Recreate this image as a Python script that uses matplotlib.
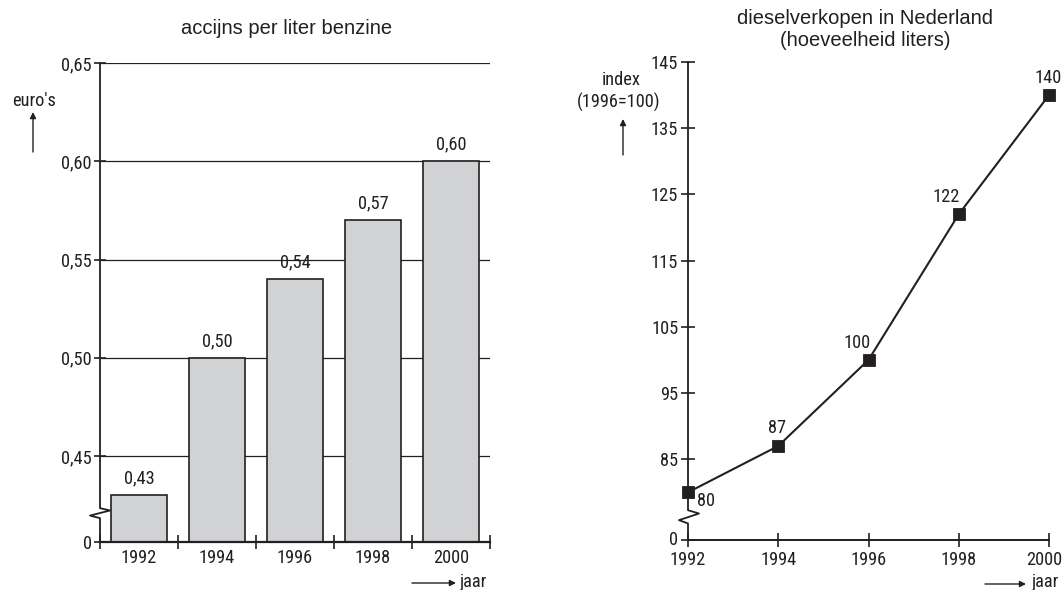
import matplotlib
matplotlib.use("Agg")
import matplotlib.pyplot as plt
from matplotlib import font_manager as fm
from matplotlib.transforms import blended_transform_factory, ScaledTranslation
from matplotlib.lines import Line2D

# ---------------- data ----------------
years_left = ["1992", "1994", "1996", "1998", "2000"]
accijns = [0.43, 0.50, 0.54, 0.57, 0.60]
accijns_labels = ["0,43", "0,50", "0,54", "0,57", "0,60"]
left_yticks = [0.45, 0.50, 0.55, 0.60, 0.65]
left_yticklabels = ["0,45", "0,50", "0,55", "0,60", "0,65"]

years_right = [1992, 1994, 1996, 1998, 2000]
diesel_index = [80, 87, 100, 122, 140]
right_yticks = [85, 95, 105, 115, 125, 135, 145]

# ---------------- fonts ----------------
cands = []
for f in fm.fontManager.ttflist:
    st = str(f.stretch).lower()
    nm = f.name.lower()
    fn = f.fname.lower()
    if ("narrow" in nm or "condensed" in nm or "narrow" in fn or "condensed" in fn
            or st in ("condensed", "semi-condensed", "extra-condensed")):
        if f.weight in (400, "normal", "regular") and f.style == "normal":
            cands.append(f)
pref = ["liberation sans narrow", "roboto condensed", "open sans condensed",
        "dejavu sans condensed", "noto sans condensed"]
chosen = None
for p in pref:
    for f in cands:
        if p in (f.name.lower() + " " + f.fname.lower().replace("-", " ")):
            chosen = f
            break
    if chosen:
        break
if chosen is None and cands:
    chosen = cands[0]
if chosen is not None:
    NFP = fm.FontProperties(fname=chosen.fname)
else:
    NFP = fm.FontProperties(family="DejaVu Sans", stretch="condensed")

REG = "Liberation Sans"
INK = "#231f20"
plt.rcParams["text.color"] = INK
plt.rcParams["axes.edgecolor"] = INK
plt.rcParams["xtick.color"] = INK
plt.rcParams["ytick.color"] = INK

W, H = 1064, 590
fig = plt.figure(figsize=(W / 100, H / 100), dpi=100)

def rect(l, r, top, bot):
    return [l / W, (H - bot) / H, (r - l) / W, (bot - top) / H]

NUM = 13.2
def nfp(size=NUM):
    p = NFP.copy()
    p.set_size(size)
    return p

def style_ticklabels(ax):
    for lab in ax.get_xticklabels() + ax.get_yticklabels():
        lab.set_fontproperties(nfp())

arrow_kw = dict(arrowstyle="-|>", lw=1, color=INK, mutation_scale=9, shrinkA=0, shrinkB=0)

# ================= left chart =================
axL = fig.add_axes(rect(100, 490, 63.3, 541.7))
yb_left = 0.4063
axL.set_xlim(-0.5, 4.5)
axL.set_ylim(yb_left, 0.65)
for y in left_yticks:
    axL.axhline(y, color=INK, lw=0.9, zorder=1)
xs = list(range(len(years_left)))
axL.bar(xs, accijns, width=0.72, bottom=0, color="#d1d2d4", edgecolor=INK,
        linewidth=1.2, zorder=2)
for x, v, lab in zip(xs, accijns, accijns_labels):
    axL.text(x, v + 0.004, lab, ha="center", va="bottom", fontproperties=nfp())
for s in ["top", "right", "left"]:
    axL.spines[s].set_visible(False)
axL.spines["bottom"].set_linewidth(1.6)
axL.set_yticks([yb_left] + left_yticks)
axL.set_yticklabels(["0"] + left_yticklabels)
axL.tick_params(axis="y", direction="inout", length=8, width=1.2, pad=2)
axL.set_xticks(xs)
axL.set_xticklabels(years_left)
axL.tick_params(axis="x", which="major", length=0, pad=5)
axL.set_xticks([x - 0.5 for x in xs] + [4.5], minor=True)
axL.tick_params(axis="x", which="minor", direction="inout", length=10, width=1.2)
style_ticklabels(axL)
trL = blended_transform_factory(axL.transAxes, axL.transData)
dx = 1 / 390
axL.add_line(Line2D([0, 0, 10 * dx, -10 * dx, 0, 0],
                    [0.65, 0.4234, 0.4222, 0.4196, 0.4183, yb_left],
                    transform=trL, color=INK, lw=1.3, clip_on=False, zorder=3))
fig.text(287 / W, 1 - 29 / H, "accijns per liter benzine", family=REG,
         fontsize=14.5, ha="center", va="center")
fig.text(34 / W, 1 - 101 / H, "euro's", fontproperties=nfp(), ha="center", va="center")
axL.annotate("", xy=(33, H - 112), xytext=(33, H - 152), xycoords="figure pixels",
             textcoords="figure pixels", arrowprops=arrow_kw)
axL.annotate("", xy=(456, H - 583), xytext=(412, H - 583), xycoords="figure pixels",
             textcoords="figure pixels", arrowprops=arrow_kw)
fig.text(459 / W, 1 - 582 / H, "jaar", fontproperties=nfp(), ha="left", va="center")

# ================= right chart =================
axR = fig.add_axes(rect(688, 1049, 62, 540))
yb_right = 72.8
axR.set_xlim(1992, 2000)
axR.set_ylim(yb_right, 145)
axR.plot(years_right, diesel_index, color=INK, lw=1.5, marker="s",
         markersize=8.5, markeredgewidth=0.6, markerfacecolor=INK,
         markeredgecolor=INK, clip_on=False, zorder=3)
offsets = {80: (18, -9), 87: (-1, 18), 100: (-11, 17), 122: (-13, 17), 140: (-1, 17)}
for x, v in zip(years_right, diesel_index):
    ox, oy = offsets[v]
    axR.annotate(str(v), (x, v), xytext=(ox * 0.72, oy * 0.72),
                 textcoords="offset points", ha="center", va="center",
                 fontproperties=nfp())
for s in ["top", "right", "left"]:
    axR.spines[s].set_visible(False)
axR.spines["bottom"].set_linewidth(1.4)
axR.set_yticks([yb_right] + right_yticks)
axR.set_yticklabels(["0"] + [str(t) for t in right_yticks])
axR.tick_params(axis="y", direction="inout", length=10, width=1.2, pad=2)
axR.set_xticks(years_right)
axR.set_xticklabels([str(y) for y in years_right])
axR.tick_params(axis="x", direction="inout", length=10, width=1.2, pad=3)
style_ticklabels(axR)
# nudge last x label slightly left, as in the reference
last = axR.get_xticklabels()[-1]
last.set_transform(last.get_transform() + ScaledTranslation(-5 / 100, 0, fig.dpi_scale_trans))
# lift the "0" label a touch so it sits beside the axis, above "1992"
zero = axR.get_yticklabels()[0]
zero.set_transform(zero.get_transform() + ScaledTranslation(0, 2 / 100, fig.dpi_scale_trans))
trR = blended_transform_factory(axR.transAxes, axR.transData)
dxr = 1 / 361
axR.add_line(Line2D([0, 0, 11 * dxr, -9 * dxr, 0, 0],
                    [145, 77.3, 76.8, 75.8, 75.3, yb_right],
                    transform=trR, color=INK, lw=1.3, clip_on=False, zorder=2))
fig.text(865 / W, 1 - 18 / H, "dieselverkopen in Nederland", family=REG,
         fontsize=14.5, ha="center", va="center")
fig.text(865 / W, 1 - 40 / H, "(hoeveelheid liters)", family=REG,
         fontsize=14.5, ha="center", va="center")
fig.text(621 / W, 1 - 80 / H, "index", fontproperties=nfp(), ha="center", va="center")
fig.text(619 / W, 1 - 102 / H, "(1996=100)", fontproperties=nfp(), ha="center", va="center")
axR.annotate("", xy=(623, H - 119), xytext=(623, H - 155), xycoords="figure pixels",
             textcoords="figure pixels", arrowprops=arrow_kw)
axR.annotate("", xy=(1026, H - 584), xytext=(985, H - 584), xycoords="figure pixels",
             textcoords="figure pixels", arrowprops=arrow_kw)
fig.text(1031 / W, 1 - 582 / H, "jaar", fontproperties=nfp(), ha="left", va="center")

fig.savefig("out.png", dpi=100)
